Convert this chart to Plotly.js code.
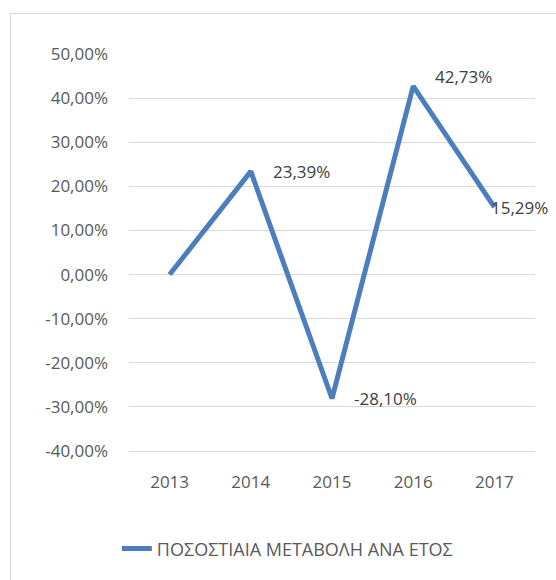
<!DOCTYPE html>
<html>
<head>
<meta charset="utf-8">
<script src="https://cdn.plot.ly/plotly-3.0.1.min.js"></script>
<style>
html,body{margin:0;padding:0;background:#fff;}
#wrap{position:relative;width:556px;height:580px;overflow:hidden;}
#chart{position:absolute;left:0;top:0;width:556px;height:580px;}
#frame{position:absolute;left:10px;top:13px;width:600px;height:600px;border-left:1px solid #d9d9d9;border-top:1px solid #d9d9d9;pointer-events:none;}
</style>
</head>
<body>
<div id="wrap"><div id="chart"></div><div id="frame"></div></div>
<script>
const years = ['2013', '2014', '2015', '2016', '2017'];
const values = [0.00, 23.39, -28.10, 42.73, 15.29];
const seriesName = 'ΠΟΣΟΣΤΙΑΙΑ ΜΕΤΑΒΟΛΗ ΑΝΑ ΕΤΟΣ';
const yTickVals = [-40, -30, -20, -10, 0, 10, 20, 30, 40, 50];
const yTickText = ['-40,00%', '-30,00%', '-20,00%', '-10,00%', '0,00%', '10,00%', '20,00%', '30,00%', '40,00%', '50,00%'];
const labelYears = ['2014', '2015', '2016', '2017'];

const fmt = v => v.toFixed(2).replace('.', ',') + '%';
const font = "'Open Sans', 'Noto Sans', sans-serif";
const gray = '#595959';

const annotations = labelYears.map(y => {
  const i = years.indexOf(y);
  const last = i === years.length - 1;
  return {
    x: i, y: values[i], xref: 'x', yref: 'y',
    text: fmt(values[i]), showarrow: false,
    xanchor: 'left', yanchor: 'middle',
    xshift: last ? -5 : 20, yshift: i === 3 ? 10 : 0,
    font: {family: font, size: 17, color: '#404040'}
  };
});

const trace = {
  x: years, y: values, type: 'scatter', mode: 'lines',
  name: seriesName,
  line: {color: '#4C7EBD', width: 5}
};

const layout = {
  width: 556, height: 580,
  margin: {l: 129, r: 21, t: 54, b: 124},
  paper_bgcolor: '#fff', plot_bgcolor: '#fff',
  font: {family: font, size: 17, color: gray},
  showlegend: true,
  legend: {orientation: 'h', x: 0.39, xanchor: 'center', y: -0.2, yanchor: 'top',
           font: {family: font, size: 18, color: gray}},
  xaxis: {type: 'category', categoryarray: years, range: [-0.5, years.length - 0.5],
          showgrid: false, showline: true, linecolor: '#d9d9d9', linewidth: 1,
          ticks: '', ticklabelstandoff: 16, tickfont: {family: font, size: 17, color: gray}},
  yaxis: {range: [-40, 50], tickvals: yTickVals, ticktext: yTickText,
          showgrid: true, gridcolor: '#d9d9d9', gridwidth: 1, zeroline: false, showline: false,
          ticks: '', ticklabelstandoff: 20, tickfont: {family: font, size: 17, color: gray}},
  annotations: annotations
};

Plotly.newPlot('chart', [trace], layout, {displayModeBar: false, staticPlot: true});
</script>
</body>
</html>
